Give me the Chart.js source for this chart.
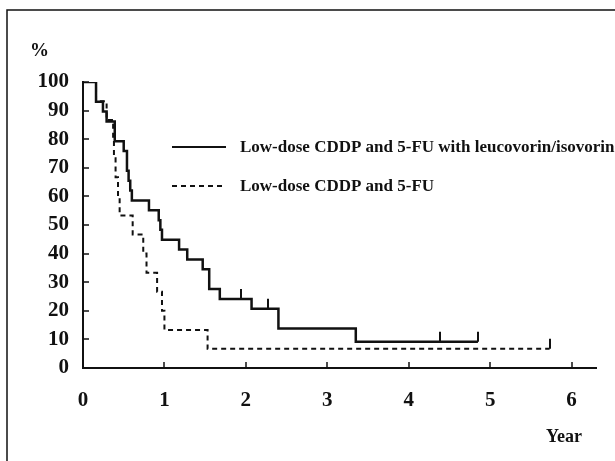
<!DOCTYPE html>
<html>
<head>
<meta charset="utf-8">
<script src="https://cdn.jsdelivr.net/npm/chart.js@4/dist/chart.umd.min.js"></script>
<style>
  html, body { margin: 0; padding: 0; background: #fff; }
  canvas { display: block; }
</style>
</head>
<body>
<canvas id="c" width="615" height="461"></canvas>
<script>
// ---- Data ----
const seriesNames = [
  "Low-dose CDDP and 5-FU with leucovorin/isovorin",
  "Low-dose CDDP and 5-FU"
];
// Kaplan-Meier step points: time (years) and survival (%) after each event
const leucoTimes  = [0, 0.16, 0.245, 0.29, 0.39, 0.50, 0.54, 0.56, 0.58, 0.60, 0.81, 0.93, 0.95, 0.97, 1.18, 1.28, 1.47, 1.55, 1.68, 2.07, 2.40, 3.35, 4.85];
const leucoValues = [100, 93.1, 89.7, 86.2, 79.3, 75.9, 69.0, 65.5, 62.1, 58.6, 55.2, 51.7, 48.3, 44.8, 41.4, 37.9, 34.5, 27.6, 24.1, 20.7, 13.8, 9.2, 9.2];
const leucoCensorTimes  = [1.94, 2.27, 4.39, 4.85];
const leucoCensorValues = [24.1, 20.7, 9.2, 9.2];

const plainTimes  = [0, 0.16, 0.29, 0.37, 0.38, 0.40, 0.43, 0.45, 0.61, 0.74, 0.78, 0.91, 0.97, 1.00, 1.53, 5.73];
const plainValues = [100, 93.3, 86.7, 80.0, 73.3, 66.7, 60.0, 53.3, 46.7, 40.0, 33.3, 26.7, 20.0, 13.3, 6.7, 6.7];
const plainCensorTimes  = [5.73];
const plainCensorValues = [6.7];

const xTickValues = [0, 1, 2, 3, 4, 5, 6];
const yTickValues = [0, 10, 20, 30, 40, 50, 60, 70, 80, 90, 100];
const yUnitLabel = "%";
const xUnitLabel = "Year";

// ---- Helpers ----
const toPoints = (xs, ys) => xs.map((x, i) => ({ x: x, y: ys[i] }));
const SERIF = "'Liberation Serif', 'Times New Roman', serif";
const INK = '#111';

const censorPlugin = {
  id: 'censors',
  afterDatasetsDraw(chart) {
    const { ctx, scales: { x, y } } = chart;
    const sets = [[leucoCensorTimes, leucoCensorValues, 2], [plainCensorTimes, plainCensorValues, 2]];
    ctx.save();
    ctx.strokeStyle = INK;
    sets.forEach(([ts, vs, w]) => {
      ctx.lineWidth = w;
      ts.forEach((t, i) => {
        const px = Math.round(x.getPixelForValue(t));
        const py = y.getPixelForValue(vs[i]);
        ctx.beginPath();
        ctx.moveTo(px, py);
        ctx.lineTo(px, py - 10);
        ctx.stroke();
      });
    });
    ctx.restore();
  }
};

const decorPlugin = {
  id: 'decor',
  afterDraw(chart) {
    const { ctx, scales: { x, y }, chartArea } = chart;
    ctx.save();
    ctx.strokeStyle = INK;
    // inward axis ticks
    ctx.lineWidth = 1.5;
    xTickValues.forEach(v => {
      const px = Math.round(x.getPixelForValue(v));
      ctx.beginPath();
      ctx.moveTo(px, chartArea.bottom);
      ctx.lineTo(px, chartArea.bottom - 6);
      ctx.stroke();
    });
    yTickValues.forEach(v => {
      const py = Math.round(y.getPixelForValue(v));
      ctx.beginPath();
      ctx.moveTo(chartArea.left, py);
      ctx.lineTo(chartArea.left + 6, py);
      ctx.stroke();
    });
    // frame of the figure
    ctx.lineWidth = 1.5;
    ctx.beginPath();
    ctx.moveTo(7, 461);
    ctx.lineTo(7, 10);
    ctx.lineTo(615, 10);
    ctx.stroke();
    // unit labels
    ctx.fillStyle = INK;
    ctx.textBaseline = 'middle';
    ctx.textAlign = 'left';
    ctx.font = "bold 19px " + SERIF;
    ctx.fillText(yUnitLabel, 30, 51);
    ctx.font = "bold 18px " + SERIF;
    ctx.fillText(xUnitLabel, 546, 437);
    // legend
    const lx0 = 172, lx1 = 226, tx = 240;
    const rows = [
      { y: 147, dash: [], w: 2, label: seriesNames[0] },
      { y: 186, dash: [5, 4], w: 2, label: seriesNames[1] }
    ];
    ctx.font = "bold 17px " + SERIF;
    rows.forEach(r => {
      ctx.lineWidth = r.w;
      ctx.setLineDash(r.dash);
      ctx.beginPath();
      ctx.moveTo(lx0, r.y);
      ctx.lineTo(lx1, r.y);
      ctx.stroke();
      ctx.setLineDash([]);
      ctx.fillText(r.label, tx, r.y + 1);
    });
    ctx.restore();
  }
};

new Chart(document.getElementById('c'), {
  type: 'line',
  data: {
    datasets: [
      {
        label: seriesNames[0],
        data: toPoints(leucoTimes, leucoValues),
        stepped: 'before',
        borderColor: INK,
        borderWidth: 2.5,
        pointRadius: 0,
        fill: false
      },
      {
        label: seriesNames[1],
        data: toPoints(plainTimes, plainValues),
        stepped: 'before',
        borderColor: INK,
        borderWidth: 2,
        borderDash: [5, 4],
        pointRadius: 0,
        fill: false
      }
    ]
  },
  options: {
    responsive: false,
    animation: false,
    devicePixelRatio: 1,
    layout: { padding: { top: 82, right: 19, left: 0, bottom: 0 } },
    plugins: { legend: { display: false }, tooltip: { enabled: false } },
    scales: {
      x: {
        type: 'linear',
        min: 0,
        max: 6.3,
        afterBuildTicks(scale) { scale.ticks = xTickValues.map(v => ({ value: v })); },
        afterFit(scale) { scale.height = 461 - 368; },
        grid: { display: true, drawOnChartArea: false, drawTicks: false, color: INK },
        border: { display: true, color: INK, width: 2 },
        ticks: { color: INK, font: { family: SERIF, size: 21, weight: 'bold' }, padding: 20, maxRotation: 0 }
      },
      y: {
        min: 0,
        max: 100,
        afterBuildTicks(scale) { scale.ticks = yTickValues.map(v => ({ value: v })); },
        afterFit(scale) { scale.width = 83; },
        grid: { display: true, drawOnChartArea: false, drawTicks: false, color: INK },
        border: { display: true, color: INK, width: 2 },
        ticks: { color: INK, font: { family: SERIF, size: 21, weight: 'bold' }, padding: 14 }
      }
    }
  },
  plugins: [censorPlugin, decorPlugin]
});
</script>
</body>
</html>
